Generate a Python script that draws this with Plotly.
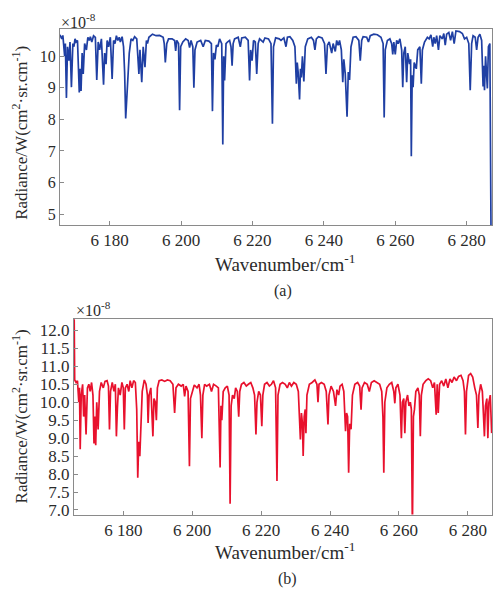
import plotly.graph_objects as go

# ---- panel (a): radiance spectrum, blue ----
wn_a = [
    6166.1, 6166.6, 6166.9, 6167.4, 6167.6, 6167.9, 6168.2, 6168.6, 6168.9, 6169.3, 6169.7, 6170.0, 6170.3, 6170.6,
    6171.0, 6171.5, 6171.75, 6172.0, 6172.3, 6172.6, 6173.0, 6173.5, 6173.9, 6174.3, 6174.6, 6175.0, 6175.5,
    6176.0, 6176.4, 6176.8, 6177.2, 6177.7, 6178.3, 6178.6, 6179.0, 6179.3, 6179.7, 6180.2, 6180.7, 6181.1, 6181.5,
    6181.9, 6182.3, 6182.7, 6183.0, 6183.5, 6183.9, 6184.2, 6184.5, 6184.8, 6185.1, 6185.5, 6186.0, 6186.5, 6187.0,
    6187.6, 6188.2, 6188.5, 6189.0, 6189.4, 6189.9, 6190.3, 6190.6, 6191.0, 6192.0, 6193.0, 6194.0, 6195.0,
    6195.3, 6195.6, 6196.0, 6196.5, 6197.5, 6198.2, 6198.5, 6198.8, 6199.3, 6199.6, 6199.9, 6200.5,
    6201.3, 6202.0, 6202.4, 6202.8, 6203.3, 6203.6, 6203.9, 6204.5, 6205.5, 6206.2, 6206.8, 6207.8, 6208.5, 6208.8,
    6209.1, 6209.5, 6209.9, 6210.3, 6210.8, 6211.4, 6211.7, 6211.95, 6212.2, 6212.6, 6213.0, 6213.6, 6214.0, 6214.3,
    6214.6,
    6215.0, 6216.0, 6216.6, 6217.0, 6218.0, 6218.8, 6219.2, 6219.5, 6219.9, 6220.3, 6220.8, 6221.2, 6221.6, 6222.0,
    6222.6, 6223.0, 6223.5, 6224.5, 6225.2, 6225.6, 6225.9, 6226.5, 6227.5, 6228.0, 6228.8, 6229.4, 6229.8, 6230.5,
    6231.3, 6231.9, 6232.3, 6232.55, 6232.8, 6233.2, 6233.45, 6233.7, 6234.0, 6234.4, 6234.8, 6235.5, 6236.5,
    6237.1, 6237.5, 6237.9, 6238.5, 6239.5, 6240.2, 6240.6, 6241.0, 6241.5, 6242.2, 6242.6, 6243.2, 6243.6, 6244.0,
    6244.4, 6244.9, 6245.3, 6245.6, 6246.0, 6246.5, 6246.85, 6247.2, 6247.6, 6248.2,
    6249.0, 6249.8, 6250.2, 6250.6, 6251.0, 6252.0, 6252.5, 6253.0, 6254.0, 6255.0, 6256.0, 6256.6, 6256.9, 6257.2,
    6257.8, 6258.5, 6259.0, 6259.3, 6259.6, 6260.0, 6260.4, 6260.8,
    6261.3, 6261.8, 6262.1, 6262.4, 6262.8, 6263.2, 6263.5, 6264.0, 6264.3, 6264.5, 6264.75, 6265.0, 6265.3, 6265.9,
    6266.3, 6266.9, 6267.3, 6267.6, 6268.2, 6269.0, 6269.5, 6270.0, 6270.5, 6270.8, 6271.2, 6271.6, 6272.1, 6272.5,
    6273.2, 6273.6, 6274.0, 6274.4, 6275.0, 6275.5, 6276.0, 6276.5, 6277.0, 6278.0, 6278.8, 6279.4, 6280.0, 6280.6,
    6281.0, 6281.4, 6281.8, 6282.4, 6282.8, 6283.2, 6283.7, 6284.2, 6284.6, 6284.8, 6285.0, 6285.3, 6285.8, 6286.1,
    6286.5, 6286.9,
]
rad_a = [
    10.68, 10.55, 10.66, 10.0, 10.4, 8.68, 10.3, 9.86, 10.45, 9.02, 10.4, 10.3, 10.55, 10.45,
    10.5, 8.85, 9.6, 8.9, 10.1, 9.44, 10.4, 10.2, 10.6, 10.5, 10.62, 10.45, 10.65,
    10.6, 9.25, 10.45, 10.2, 10.55, 9.1, 10.1, 9.75, 10.5, 10.3, 10.6, 9.28, 10.5, 10.4,
    10.65, 10.5, 10.6, 10.45, 10.62, 10.3, 9.5, 8.03, 8.6, 9.02, 10.1, 10.55, 10.5, 10.62,
    10.55, 9.44, 10.2, 9.18, 10.3, 9.65, 10.5, 10.4, 10.6, 10.7, 10.65, 10.66, 10.6,
    10.4, 9.8, 10.4, 10.55, 10.55, 10.5, 10.17, 10.5, 10.4, 8.29, 10.3, 10.45,
    10.55, 10.5, 10.27, 10.5, 10.3, 9.0, 10.2, 10.45, 10.5, 10.3, 10.5, 10.48, 10.4, 8.26,
    10.1, 9.9, 10.35, 10.3, 10.55, 10.4, 7.2, 10.0, 9.23, 10.4, 10.45, 10.5, 10.3, 9.7,
    10.4,
    10.55, 10.6, 10.3, 10.58, 10.6, 10.5, 9.23, 10.2, 9.86, 10.5, 10.45, 9.44, 10.4, 10.55,
    10.5, 10.45, 10.58, 10.55, 10.4, 7.86, 10.3, 10.58, 10.55, 10.5, 10.58, 10.3, 10.6, 10.62,
    10.5, 10.3, 9.13, 9.8, 9.5, 8.63, 9.6, 9.33, 10.0, 9.2, 10.3, 10.55, 10.6,
    10.5, 10.2, 10.55, 10.62, 10.58, 10.4, 9.44, 10.35, 10.45, 10.1, 10.4, 10.15, 10.5, 10.35,
    10.5, 10.2, 9.18, 9.9, 9.44, 8.08, 9.5, 9.25, 10.3, 10.6,
    10.62, 10.5, 9.86, 10.5, 10.62, 10.6, 10.45, 10.65, 10.7, 10.68, 10.6, 10.4, 8.06, 10.2,
    10.5, 10.55, 10.4, 10.06, 10.45, 10.06, 10.5, 10.4,
    10.55, 10.2, 9.02, 10.1, 10.3, 9.18, 10.1, 9.75, 9.9, 6.83, 9.4, 9.02, 9.8, 9.6,
    10.2, 10.3, 9.13, 10.2, 10.45, 10.6, 10.55, 10.68, 10.3, 10.6, 10.4, 10.65, 10.2, 10.65,
    10.55, 10.72, 10.35, 10.7, 10.75, 10.5, 10.78, 10.4, 10.8, 10.78, 10.72, 10.55, 10.6, 10.4,
    8.92, 10.4, 10.65, 10.6, 10.2, 10.6, 10.7, 10.5, 9.04, 9.7, 8.92, 10.0, 8.98, 10.3,
    10.4, 3.0,
]

# ---- panel (b): radiance spectrum, red ----
wn_b = [
    6165.75, 6165.9, 6166.3, 6166.7, 6167.1, 6167.3, 6167.5, 6167.8, 6168.2, 6168.5, 6168.8, 6169.2, 6169.6, 6170.0,
    6170.4, 6170.8, 6171.2, 6171.5, 6171.75, 6172.0, 6172.3, 6172.7, 6173.1, 6173.6, 6174.2, 6174.7, 6175.3,
    6175.7, 6176.0, 6176.3, 6176.8, 6177.3, 6177.7, 6178.0, 6178.3, 6178.6, 6179.1, 6179.6, 6180.0, 6180.3, 6180.6,
    6181.1, 6181.6, 6182.0, 6182.5, 6183.0, 6183.5, 6183.9, 6184.2, 6184.5, 6184.8, 6185.1, 6185.5, 6186.1, 6186.6,
    6187.0, 6187.2, 6187.5, 6188.0, 6188.6, 6188.9, 6189.3, 6189.6, 6189.9, 6190.4, 6191.2, 6192.0, 6192.8, 6193.6,
    6194.4, 6194.9, 6195.3, 6196.0, 6196.8, 6197.4, 6197.8, 6198.2, 6198.8, 6199.2, 6199.5, 6200.0, 6200.6,
    6201.4, 6202.0, 6202.4, 6202.8, 6203.1, 6203.6, 6204.2, 6205.0, 6205.6, 6206.2, 6207.0, 6207.6, 6208.1, 6208.35,
    6208.6, 6209.0, 6209.6, 6210.2, 6210.7, 6211.0, 6211.3, 6211.7, 6212.2, 6212.6, 6213.1, 6213.5, 6213.8, 6214.3,
    6215.0, 6215.7, 6216.3, 6217.0, 6217.6, 6218.1, 6218.5, 6218.8, 6219.3, 6219.8, 6220.2, 6220.5, 6221.0, 6221.7,
    6222.4, 6223.0, 6223.6, 6224.2, 6224.6, 6224.9, 6225.5, 6226.2, 6227.0, 6227.6, 6228.2, 6228.8, 6229.5, 6230.2,
    6230.8, 6231.1, 6231.4, 6231.7, 6232.0, 6232.2, 6232.5, 6232.8, 6233.0, 6233.3, 6234.0, 6234.8, 6235.6, 6236.2,
    6236.5, 6236.8, 6237.5, 6238.3, 6238.9, 6239.4, 6239.7, 6240.3, 6241.0, 6241.6, 6242.0, 6242.5, 6242.9, 6243.5,
    6244.0, 6244.5, 6244.8, 6245.1, 6245.4, 6245.7, 6246.1, 6246.5, 6247.2,
    6248.0, 6248.6, 6249.0, 6249.3, 6250.0, 6250.8, 6251.4, 6252.0, 6252.8, 6253.6, 6254.4, 6255.0, 6255.35, 6255.6,
    6255.9, 6256.5, 6257.2, 6257.9, 6258.5, 6258.8, 6259.1, 6259.7, 6260.3, 6260.7, 6261.0, 6261.4, 6261.7, 6262.0,
    6262.5, 6262.9,
    6263.3, 6263.6, 6263.9, 6264.2, 6264.5, 6264.9, 6265.5, 6265.9, 6266.2, 6266.5, 6267.0, 6267.8, 6268.5, 6269.2,
    6269.8, 6270.3, 6270.8, 6271.1, 6271.4, 6271.8, 6272.4, 6273.0, 6273.6, 6274.2, 6274.8, 6275.4, 6276.0, 6276.7,
    6277.3, 6278.0,
    6278.6, 6279.0, 6279.3, 6279.6, 6280.2, 6280.8, 6281.4, 6282.0, 6282.5, 6282.9, 6283.2, 6283.7, 6284.2, 6284.5,
    6284.8, 6285.1, 6285.5, 6285.8, 6286.1, 6286.5, 6286.9,
]
rad_b = [
    12.4, 10.62, 10.55, 10.6, 10.0, 10.4, 8.69, 10.2, 10.5, 9.6, 10.2, 9.1, 10.4, 10.5,
    10.3, 10.55, 10.2, 8.85, 9.6, 8.8, 10.0, 9.24, 10.3, 10.55, 10.4, 10.58, 10.6,
    10.45, 9.24, 10.3, 10.55, 10.3, 10.5, 9.05, 9.85, 10.4, 10.2, 10.55, 10.4, 9.24, 10.4,
    10.5, 10.3, 10.6, 10.4, 10.6, 10.55, 9.8, 7.9, 8.9, 8.5, 9.5, 10.3, 10.62, 10.5,
    10.2, 9.42, 10.2, 10.4, 9.05, 10.1, 10.0, 9.5, 10.4, 10.6, 10.62, 10.58, 10.62, 10.6,
    10.5, 9.7, 10.4, 10.5, 10.45, 10.5, 10.16, 10.45, 10.3, 8.22, 10.1, 10.3, 10.48,
    10.4, 10.5, 10.2, 9.0, 10.2, 10.5, 10.45, 10.5, 10.3, 10.5, 10.45, 10.4, 8.18, 9.9,
    9.5, 10.3, 10.4, 10.45, 10.2, 7.17, 9.9, 10.2, 10.1, 10.4, 10.3, 9.6, 10.3, 10.5,
    10.55, 10.45, 10.5, 10.55, 10.4, 10.2, 9.1, 10.0, 10.3, 10.2, 9.33, 10.2, 10.5, 10.55,
    10.45, 10.5, 10.6, 10.4, 7.81, 10.2, 10.5, 10.55, 10.5, 10.4, 10.55, 10.45, 10.55, 10.5,
    10.3, 9.8, 8.96, 9.7, 9.4, 8.5, 9.6, 9.8, 9.14, 10.2, 10.5, 10.55, 10.62, 10.5,
    10.0, 10.5, 10.55, 10.5, 10.3, 9.38, 10.2, 10.45, 10.3, 9.9, 10.35, 10.2, 10.45, 10.5,
    10.3, 9.19, 9.7, 9.6, 8.04, 9.4, 9.25, 10.2, 10.5,
    10.55, 10.45, 9.79, 10.4, 10.55, 10.5, 10.3, 10.55, 10.6, 10.55, 10.5, 10.3, 9.6, 8.04,
    10.0, 10.4, 10.5, 10.55, 10.3, 9.97, 10.4, 10.5, 10.2, 9.0, 10.0, 10.1, 9.14, 10.0,
    10.2, 9.9,
    10.0, 9.8, 6.4, 9.6, 9.8, 10.3, 10.4, 10.2, 9.05, 10.2, 10.5, 10.6, 10.65, 10.6,
    10.4, 10.55, 9.65, 10.5, 9.7, 10.5, 10.6, 10.45, 10.65, 10.4, 10.65, 10.55, 10.7, 10.6,
    10.72, 10.75,
    10.6, 10.3, 9.1, 10.3, 10.75, 10.8, 10.7, 10.4, 10.2, 9.28, 10.2, 10.5, 10.3, 9.7,
    9.05, 9.9, 10.1, 9.0, 10.0, 10.2, 9.14,
]

x_ticks = [6180, 6200, 6220, 6240, 6260, 6280]
x_tick_text = ["6 180", "6 200", "6 220", "6 240", "6 260", "6 280"]
y_ticks_a = [5, 6, 7, 8, 9, 10]
y_ticks_b = [7.0, 7.5, 8.0, 8.5, 9.0, 9.5, 10.0, 10.5, 11.0, 11.5, 12.0]

W, H = 493, 593
FONT = "Liberation Serif, Times New Roman, serif"
TXT = "#2b2b2b"
FRAME = "#8a8a8a"


def px(x):
    return x / W


def py(y):
    return 1 - y / H


fig = go.Figure()
fig.add_trace(go.Scatter(x=wn_a, y=rad_a, mode="lines", xaxis="x", yaxis="y",
                         line=dict(color="#1f3fa3", width=1.7), showlegend=False))
fig.add_trace(go.Scatter(x=wn_b, y=rad_b, mode="lines", xaxis="x2", yaxis="y2",
                         line=dict(color="#e8112d", width=1.7), showlegend=False))

axis_common = dict(showline=True, mirror=True, linecolor=FRAME, linewidth=1,
                   ticks="inside", ticklen=4, tickcolor=FRAME, showgrid=False,
                   zeroline=False, tickfont=dict(family=FONT, size=16, color=TXT))
xtick_font = dict(family=FONT, size=17, color=TXT)

fig.update_layout(
    width=W, height=H,
    margin=dict(l=0, r=0, t=0, b=0),
    paper_bgcolor="white", plot_bgcolor="white",
    xaxis=dict(domain=[px(60), px(492)], anchor="y", range=[6166.1, 6287.1],
               tickvals=x_ticks, ticktext=x_tick_text,
               **{**axis_common, "tickfont": xtick_font}),
    yaxis=dict(domain=[py(227), py(29)], anchor="x", range=[4.65, 10.87],
               tickvals=y_ticks_a, **axis_common),
    xaxis2=dict(domain=[px(74), px(492)], anchor="y2", range=[6165.7, 6287.0],
                tickvals=x_ticks, ticktext=x_tick_text,
                **{**axis_common, "tickfont": xtick_font}),
    yaxis2=dict(domain=[py(519), py(322)], anchor="x2", range=[6.87, 12.31],
                tickvals=y_ticks_b, tickformat=".1f",
                **{**axis_common, "tickfont": dict(family=FONT, size=17, color=TXT)}),
)

ann_font = dict(family=FONT, size=16, color=TXT)
ylab_font = dict(family=FONT, size=17, color=TXT)
xlab_font = dict(family=FONT, size=19, color=TXT)
ylabel = "Radiance/W(cm<sup>2</sup>·sr.cm<sup>-1</sup>)"
xlabel = "Wavenumber/cm<sup>-1</sup>"
annotations = [
    dict(x=px(59), y=py(21), text="×10<sup>-8</sup>", xanchor="left", yanchor="middle", font=ann_font),
    dict(x=px(74), y=py(312), text="×10<sup>-8</sup>", xanchor="left", yanchor="middle", font=ann_font),
    dict(x=px(20), y=py(134), text=ylabel, textangle=-90, xanchor="center", yanchor="middle", font=ylab_font),
    dict(x=px(20), y=py(420), text=ylabel, textangle=-90, xanchor="center", yanchor="middle", font=ylab_font),
    dict(x=px(285), y=py(265), text=xlabel, xanchor="center", yanchor="middle", font=xlab_font),
    dict(x=px(285), y=py(556), text=xlabel, xanchor="center", yanchor="middle", font=xlab_font),
    dict(x=px(283), y=py(293), text="(a)", xanchor="center", yanchor="middle", font=ann_font),
    dict(x=px(287), y=py(584), text="(b)", xanchor="center", yanchor="middle", font=ann_font),
]
for a in annotations:
    a.update(xref="paper", yref="paper", showarrow=False)
fig.update_layout(annotations=annotations)

fig.write_html("out.html")
